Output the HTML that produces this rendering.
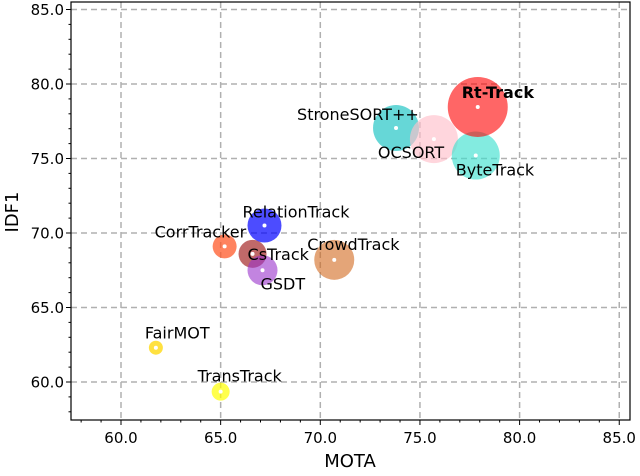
<!DOCTYPE html>
<html><head><meta charset="utf-8"><style>
body{margin:0;background:#fff}
svg text{font-family:"DejaVu Sans","Liberation Sans",sans-serif}
</style></head><body>
<svg id="c" width="640" height="471"></svg>
<script>
const names=["FairMOT","TransTrack","CorrTracker","CsTrack","GSDT","RelationTrack","CrowdTrack","StroneSORT++","OCSORT","ByteTrack","Rt-Track"];
const mota=[61.75,65.0,65.2,66.6,67.1,67.2,70.7,73.8,75.7,77.8,77.9];
const idf1=[62.3,59.35,69.1,68.6,67.5,70.5,68.2,77.05,76.3,75.2,78.46];
const sizes=[7,9,12,14,15,17,20,23,24,24,30];
const colors=["#ffd700","#ffff00","#ff5a2a","#a52a2a","#9932cc","#0000ff","#d2691e","#00bdbd","#ffc0cb","#40e0d0","#ff0000"];
const alphas=[0.75,0.7,0.75,0.7,0.6,0.7,0.6,0.6,0.65,0.65,0.6];
const xTicks=[60,65,70,75,80,85];
const yTicks=[60,65,70,75,80,85];
const labelDX=[-11,-23,-70,-5,-2,-22,-27,-99,-56,-20,-16];
const labelDY=[-9,-10,-9,6,19,-8,-10,-8,19,20,-9];

const NS="http://www.w3.org/2000/svg",svg=document.getElementById("c");
const L=71,R=630,T=2,B=420;
const xs=v=>121+(v-60)*19.93, ys=v=>382-(v-60)*14.9;
function el(t,a,p){const e=document.createElementNS(NS,t);for(const k in a)e.setAttribute(k,a[k]);(p||svg).appendChild(e);return e;}
xTicks.forEach(v=>{const g=el("line",{x1:xs(v),x2:xs(v),y1:T,y2:B,stroke:"#b0b0b0","stroke-width":1.5,"stroke-dasharray":"6,4"});

});
yTicks.forEach(v=>{const g=el("line",{x1:L,x2:R,y1:ys(v),y2:ys(v),stroke:"#b0b0b0","stroke-width":1.5,"stroke-dasharray":"6,4"});

});
names.forEach((n,i)=>{const c=el("circle",{cx:xs(mota[i]),cy:ys(idf1[i]),r:sizes[i],fill:colors[i],"fill-opacity":alphas[i]});


const d=el("circle",{cx:xs(mota[i]),cy:ys(idf1[i]),r:2,fill:"#fff"});

});
names.forEach((n,i)=>{const t=el("text",{x:xs(mota[i])+labelDX[i],y:ys(idf1[i])+labelDY[i],"font-size":16,fill:"#000","font-weight":n==="Rt-Track"?"bold":"normal"});t.textContent=n;

});
const f=el("rect",{x:L,y:T,width:R-L,height:B-T,fill:"none",stroke:"#000","stroke-width":1.2});


for(let v=58;v<=85;v++){el("line",{x1:xs(v),x2:xs(v),y1:B,y2:B+(v%5?2.5:5),stroke:"#000"});}
for(let v=58;v<=85;v++){el("line",{x1:L,x2:L-(v%5?2.5:5),y1:ys(v),y2:ys(v),stroke:"#000"});}
xTicks.forEach(v=>{const t=el("text",{x:xs(v),y:443,"font-size":15,"text-anchor":"middle"});t.textContent=v.toFixed(1);

});
yTicks.forEach(v=>{const t=el("text",{x:64,y:ys(v)+5.5,"font-size":15,"text-anchor":"end"});t.textContent=v.toFixed(1);

});
const xt=el("text",{x:350,y:467,"font-size":18,"text-anchor":"middle"});xt.textContent="MOTA";


const yt=el("text",{x:0,y:0,"font-size":18,"text-anchor":"middle",transform:"translate(18,212) rotate(-90)"});yt.textContent="IDF1";


</script>
</body></html>
